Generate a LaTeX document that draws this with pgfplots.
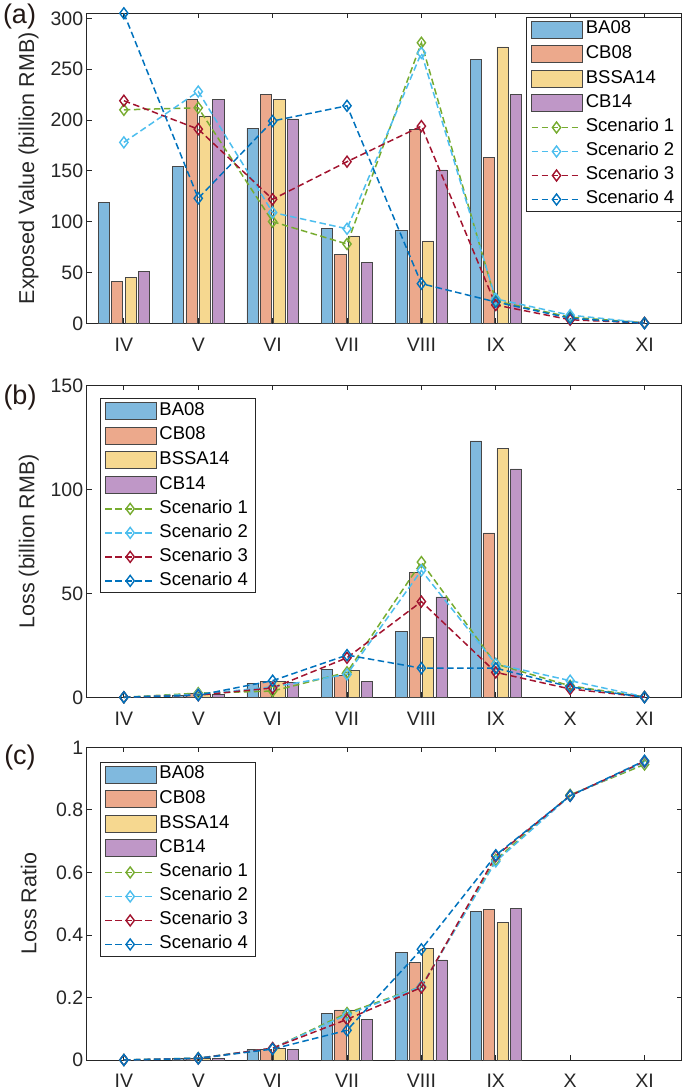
\documentclass[border=0pt]{standalone}
\usepackage{fontspec}
\setmainfont{Liberation Sans}
\usepackage{pgfplots}
\pgfplotsset{compat=1.18}
\definecolor{axc}{HTML}{262626}
\definecolor{cBA}{HTML}{80B9DE}
\definecolor{cCB}{HTML}{ECA98C}
\definecolor{cBS}{HTML}{F6D890}
\definecolor{cC14}{HTML}{BF97C7}
\definecolor{edge}{HTML}{474747}
\definecolor{sOne}{HTML}{77AC30}
\definecolor{sTwo}{HTML}{4DBEEE}
\definecolor{sThree}{HTML}{A2142F}
\definecolor{sFour}{HTML}{0072BD}
\definecolor{plab}{HTML}{231815}
\pgfplotsset{
  panel/.style={
    scale only axis, width=595pt,
    xmin=-0.5, xmax=7.5,
    xtick={0,...,7}, xticklabels={IV,V,VI,VII,VIII,IX,X,XI},
    minor tick num=0,
    tick align=inside, major tick length=5pt,
    axis line style={line width=0.8pt, color=axc},
    every tick/.style={axc, line width=0.8pt},
    tick label style={color=axc, font=\fontsize{19.5}{22}\selectfont},
    xticklabel style={yshift=-11pt},
    /pgf/number format/assume math mode=true,
    label style={font=\fontsize{21.5}{24}\selectfont, color=axc},
    ylabel style={at={(axis description cs:-0.0975,0.5)}, anchor=center},
    clip=false,
    legend cell align=left,
    legend style={draw=axc, line width=0.8pt, fill=white,
      font=\fontsize{18.5}{22}\selectfont, text=black,
      inner xsep=4pt, inner ysep=3.5pt,
      row sep=7pt,
      nodes={inner xsep=3pt, inner ysep=0pt, text height=13pt, text depth=4pt}},
  },
  bar/.style={ybar, bar width=0.15, bar shift=#1, draw=edge, line width=0.6pt,
    area legend,
    legend image code/.code={\draw[##1,line width=0.6pt] (0pt,-8.5pt) rectangle (51pt,8.5pt);}},
  scen/.style={dashed, dash pattern=on 6.5pt off 3.5pt, line width=1.5pt, color=#1,
    mark=diamond, mark size=5.5pt, mark options={solid, line width=1.4pt, fill=none},
    legend image code/.code={\draw[mark repeat=2,mark phase=2,##1] plot coordinates {(0pt,0pt) (25pt,0pt) (50pt,0pt)};}},
}
\begin{document}
\begin{tikzpicture}
\useasboundingbox (0,0) rectangle (685pt,1091pt);
% ---------------- (a)
\begin{axis}[panel, at={(86.7pt,767.7pt)}, anchor=south west, height=310pt,
  ymin=0, ymax=305, ytick={0,50,...,300},
  ylabel={Exposed Value (billion RMB)},
  legend style={at={(1,0.989)}, anchor=north east}]
\addplot[bar=-0.27, fill=cBA] coordinates {(0,119) (1,154) (2,192) (3,93) (4,91) (5,260)};
\addplot[bar=-0.09, fill=cCB] coordinates {(0,41) (1,220) (2,225) (3,68) (4,191) (5,163)};
\addplot[bar=0.09, fill=cBS] coordinates {(0,45) (1,204) (2,220) (3,86) (4,81) (5,272)};
\addplot[bar=0.27, fill=cC14] coordinates {(0,51) (1,220) (2,201) (3,60) (4,151) (5,225)};
\addplot[scen=sOne] coordinates {(0,210) (1,212) (2,100) (3,78) (4,276) (5,22) (6,6) (7,0.5)};
\addplot[scen=sTwo] coordinates {(0,178) (1,228) (2,109) (3,93) (4,266) (5,24) (6,8) (7,0.5)};
\addplot[scen=sThree] coordinates {(0,219) (1,191) (2,122) (3,159) (4,194) (5,18) (6,3.5) (7,0.3)};
\addplot[scen=sFour] coordinates {(0,305) (1,123) (2,199) (3,214) (4,39) (5,21) (6,5) (7,0)};
\legend{BA08,CB08,BSSA14,CB14,Scenario 1,Scenario 2,Scenario 3,Scenario 4}
\end{axis}
% ---------------- (b)
\begin{axis}[panel, at={(86.7pt,393.7pt)}, anchor=south west, height=312pt,
  ymin=0, ymax=150, ytick={0,50,100,150},
  ylabel={Loss (billion RMB)},
  legend style={at={(0.0224,0.959)}, anchor=north west}]
\addplot[bar=-0.27, fill=cBA] coordinates {(1,0.8) (2,6.7) (3,13.6) (4,31.5) (5,123.3)};
\addplot[bar=-0.09, fill=cCB] coordinates {(1,1.8) (2,7.8) (3,10.7) (4,59.9) (5,79)};
\addplot[bar=0.09, fill=cBS] coordinates {(1,1.2) (2,7.5) (3,13.1) (4,28.8) (5,119.6)};
\addplot[bar=0.27, fill=cC14] coordinates {(1,1.5) (2,7) (3,7.8) (4,48.3) (5,109.8)};
\addplot[scen=sOne] coordinates {(0,0) (1,2) (2,3) (3,12) (4,65) (5,16) (6,5.5) (7,0.2)};
\addplot[scen=sTwo] coordinates {(0,0) (1,1.5) (2,5) (3,11) (4,61) (5,16) (6,8) (7,0.2)};
\addplot[scen=sThree] coordinates {(0,0) (1,1) (2,4.5) (3,19) (4,46) (5,12) (6,4) (7,0.1)};
\addplot[scen=sFour] coordinates {(0,0) (1,1) (2,8) (3,20.3) (4,14) (5,14) (6,5) (7,0)};
\legend{BA08,CB08,BSSA14,CB14,Scenario 1,Scenario 2,Scenario 3,Scenario 4}
\end{axis}
% ---------------- (c)
\begin{axis}[panel, at={(86.7pt,31pt)}, anchor=south west, height=312.7pt,
  ymin=0, ymax=1, ytick={0,0.2,...,1.0},
  yticklabels={0,0.2,0.4,0.6,0.8,1},
  ylabel={Loss Ratio},
  legend style={at={(0.0224,0.954)}, anchor=north west}]
\addplot[bar=-0.27, fill=cBA] coordinates {(1,0.004) (2,0.033) (3,0.149) (4,0.344) (5,0.474)};
\addplot[bar=-0.09, fill=cCB] coordinates {(1,0.006) (2,0.034) (3,0.160) (4,0.312) (5,0.482)};
\addplot[bar=0.09, fill=cBS] coordinates {(1,0.005) (2,0.036) (3,0.160) (4,0.357) (5,0.439)};
\addplot[bar=0.27, fill=cC14] coordinates {(1,0.004) (2,0.035) (3,0.131) (4,0.320) (5,0.485)};
\addplot[scen=sOne] coordinates {(0,0) (1,0.006) (2,0.037) (3,0.150) (4,0.235) (5,0.640) (6,0.848) (7,0.945)};
\addplot[scen=sTwo] coordinates {(0,0) (1,0.006) (2,0.037) (3,0.145) (4,0.235) (5,0.635) (6,0.845) (7,0.952)};
\addplot[scen=sThree] coordinates {(0,0) (1,0.005) (2,0.038) (3,0.130) (4,0.232) (5,0.652) (6,0.845) (7,0.955)};
\addplot[scen=sFour] coordinates {(0,0) (1,0.005) (2,0.035) (3,0.095) (4,0.354) (5,0.655) (6,0.845) (7,0.957)};
\legend{BA08,CB08,BSSA14,CB14,Scenario 1,Scenario 2,Scenario 3,Scenario 4}
\end{axis}
\node[text=plab, font=\fontsize{27}{30}\selectfont] at (19.5pt,1074.3pt) {(a)};
\node[text=plab, font=\fontsize{27}{30}\selectfont] at (20pt,693pt) {(b)};
\node[text=plab, font=\fontsize{27}{30}\selectfont] at (20pt,333.5pt) {(c)};
\end{tikzpicture}
\end{document}
